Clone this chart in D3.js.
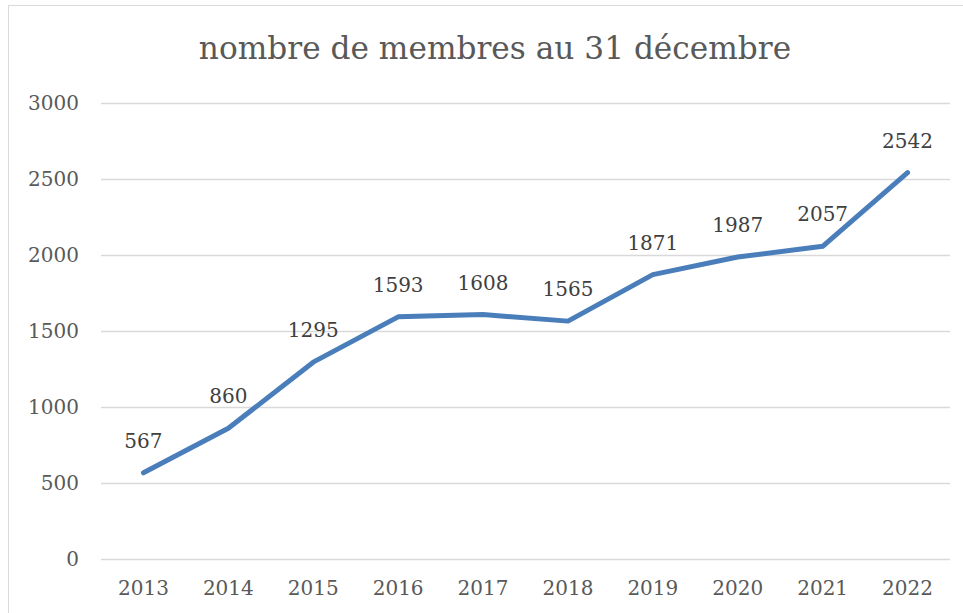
<!DOCTYPE html>
<html>
<head>
<meta charset="utf-8">
<script src="https://cdn.jsdelivr.net/npm/d3@7"></script>
<style>
  body { margin: 0; background: #fff; }
  text { font-family: "DejaVu Serif", serif; }
</style>
</head>
<body>
<div id="chart"></div>
<script>
const years = ["2013", "2014", "2015", "2016", "2017", "2018", "2019", "2020", "2021", "2022"];
const members = [567, 860, 1295, 1593, 1608, 1565, 1871, 1987, 2057, 2542];
const yTicks = [0, 500, 1000, 1500, 2000, 2500, 3000];
const title = "nombre de membres au 31 décembre";

const W = 963, H = 613;
const plot = { left: 101, right: 950, top: 103, bottom: 559 };
const font = "'DejaVu Serif', serif";

const svg = d3.select("#chart").append("svg")
    .attr("width", W)
    .attr("height", H);

// chart frame
svg.append("rect")
    .attr("x", 8.5).attr("y", 5.5)
    .attr("width", 960).attr("height", 640)
    .attr("fill", "#fff")
    .attr("stroke", "#d9d9d9");

const x = d3.scaleBand()
    .domain(years)
    .range([plot.left, plot.right]);

const y = d3.scaleLinear()
    .domain([0, 3000])
    .range([plot.bottom, plot.top]);

// gridlines
svg.append("g")
    .selectAll("line")
    .data(yTicks)
    .join("line")
    .attr("x1", plot.left).attr("x2", plot.right)
    .attr("y1", d => Math.round(y(d)) + 0.5)
    .attr("y2", d => Math.round(y(d)) + 0.5)
    .attr("stroke", "#d9d9d9")
    .attr("stroke-width", 1.5);

// y axis labels
const yAxis = svg.append("g")
    .attr("transform", `translate(${plot.left},0)`)
    .call(d3.axisLeft(y).tickValues(yTicks).tickFormat(d3.format("d")).tickSize(0).tickPadding(22));
yAxis.select(".domain").remove();
yAxis.selectAll("text")
    .attr("fill", "#595959")
    .style("font-size", "20px")
    .style("font-family", font);

// x axis labels
const xAxis = svg.append("g")
    .attr("transform", `translate(0,${plot.bottom})`)
    .call(d3.axisBottom(x).tickSize(0).tickPadding(22));
xAxis.select(".domain").remove();
xAxis.selectAll("text")
    .attr("fill", "#595959")
    .style("font-size", "20px")
    .style("font-family", font);

// line
const line = d3.line()
    .x((d, i) => x(years[i]) + x.bandwidth() / 2)
    .y(d => y(d));

svg.append("path")
    .datum(members)
    .attr("d", line)
    .attr("fill", "none")
    .attr("stroke", "#4a7ebb")
    .attr("stroke-width", 5)
    .attr("stroke-linecap", "round")
    .attr("stroke-linejoin", "round");

// data labels
svg.append("g")
    .selectAll("text")
    .data(members)
    .join("text")
    .attr("x", (d, i) => x(years[i]) + x.bandwidth() / 2)
    .attr("y", d => y(d) - 25)
    .attr("text-anchor", "middle")
    .attr("fill", "#404040")
    .style("font-size", "20px")
    .text(d => d);

// title, sized so it spans about the same width as the original
const titleText = svg.append("text")
    .attr("x", 495)
    .attr("y", 59)
    .attr("text-anchor", "middle")
    .attr("fill", "#595959")
    .style("font-size", "32px")
    .text(title);
const tw = titleText.node().getComputedTextLength();
titleText.style("font-size", (32 * 592 / tw).toFixed(1) + "px");
</script>
</body>
</html>
